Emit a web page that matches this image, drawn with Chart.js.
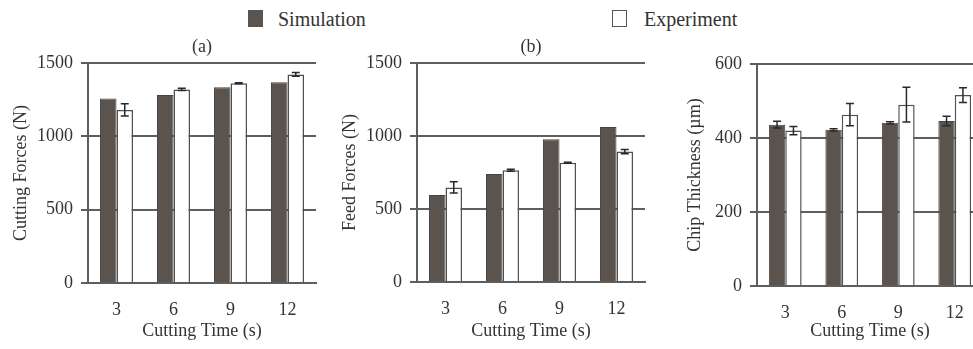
<!DOCTYPE html>
<html>
<head>
<meta charset="utf-8">
<script src="https://cdn.jsdelivr.net/npm/chart.js@4.4.1/dist/chart.umd.min.js"></script>
<style>
  html, body { margin: 0; padding: 0; background: #fff; width: 973px; height: 349px; overflow: hidden; }
  .panel { position: absolute; top: 0; }
  .lg-box { position: absolute; width: 15px; height: 17px; border: 1.5px solid #555; box-sizing: border-box; }
  .lg-text { position: absolute; font-family: 'Liberation Serif', 'Times New Roman', serif; font-size: 20px; color: #333; line-height: 20px; }
</style>
</head>
<body>
<div class="lg-box" style="left:248px; top:10px; background:#5b534d;"></div>
<div class="lg-text" style="left:278px; top:9px;">Simulation</div>
<div class="lg-box" style="left:612px; top:10px; background:#fff;"></div>
<div class="lg-text" style="left:644px; top:9px;">Experiment</div>

<div class="panel" style="left:0px;"><canvas id="ca" width="330" height="349"></canvas></div>
<div class="panel" style="left:330px;"><canvas id="cb" width="330" height="349"></canvas></div>
<div class="panel" style="left:660px;"><canvas id="cc" width="340" height="349"></canvas></div>

<script>
// ---- data ----
const categories = ['3', '6', '9', '12'];

const cuttingSim = [1258, 1282, 1334, 1368];
const cuttingSimErr = [0, 0, 0, 0];
const cuttingExp = [1180, 1320, 1362, 1422];
const cuttingExpErr = [42, 7, 4, 13];

const feedSim = [596, 740, 978, 1062];
const feedSimErr = [0, 0, 0, 0];
const feedExp = [648, 765, 817, 893];
const feedExpErr = [38, 7, 3, 14];

const chipSim = [436, 422, 441, 446];
const chipSimErr = [9, 3, 3, 13];
const chipExp = [420, 463, 490, 516];
const chipExpErr = [11, 30, 47, 20];

const seriesNames = ['Simulation', 'Experiment'];
const xTitle = 'Cutting Time (s)';

// ---- styling ----
const FONT = "'Liberation Serif', 'Times New Roman', serif";
const TEXT = '#333';
const GRID = '#5e5e5e';
const DARK = '#5b534d';

Chart.defaults.font.family = FONT;
Chart.defaults.font.size = 18;
Chart.defaults.color = TEXT;

const errorBars = {
  id: 'errorBars',
  afterDatasetsDraw(chart) {
    const ctx = chart.ctx;
    const ys = chart.scales.y;
    chart.data.datasets.forEach((ds, i) => {
      if (!ds.errors) return;
      const meta = chart.getDatasetMeta(i);
      meta.data.forEach((bar, j) => {
        const e = ds.errors[j];
        if (!e) return;
        const v = ds.data[j];
        const x = bar.x;
        const yt = ys.getPixelForValue(v + e);
        const yb = ys.getPixelForValue(v - e);
        ctx.save();
        ctx.strokeStyle = '#2a2a2a';
        ctx.lineWidth = 1.5;
        ctx.beginPath();
        ctx.moveTo(x, yt); ctx.lineTo(x, yb);
        ctx.moveTo(x - 4, yt); ctx.lineTo(x + 4, yt);
        ctx.moveTo(x - 4, yb); ctx.lineTo(x + 4, yb);
        ctx.stroke();
        ctx.restore();
      });
    });
  }
};

function makeChart(id, cfg) {
  const datasets = [
    { label: seriesNames[0], data: cfg.sim, errors: cfg.simErr, backgroundColor: DARK, borderColor: '#4a4440', borderWidth: 1 },
    { label: seriesNames[1], data: cfg.exp, errors: cfg.expErr, backgroundColor: '#ffffff', borderColor: '#505050', borderWidth: 1.5 }
  ];
  const f18 = { family: FONT, size: 18, weight: 'normal' };
  return new Chart(document.getElementById(id), {
    type: 'bar',
    data: { labels: categories, datasets },
    plugins: [errorBars],
    options: {
      responsive: false,
      animation: false,
      categoryPercentage: 0.58,
      barPercentage: 1.0,
      layout: { padding: { left: 0, right: cfg.padRight, top: cfg.padTop, bottom: 0 } },
      plugins: {
        legend: { display: false },
        tooltip: { enabled: false },
        title: {
          display: !!cfg.title,
          text: cfg.title || '',
          fullSize: false,
          color: TEXT,
          font: f18,
          padding: { top: 36, bottom: 5.4 }
        }
      },
      scales: {
        x: {
          grid: { display: false },
          border: { display: true, color: GRID, width: 2 },
          ticks: { color: TEXT, font: f18, padding: 8 },
          title: { display: true, text: xTitle, color: TEXT, font: f18, padding: { top: 0, bottom: 7 } },
          afterFit: (s) => { s.height = cfg.xHeight; }
        },
        y: {
          min: 0, max: cfg.max,
          ticks: { stepSize: cfg.step, color: TEXT, font: f18, padding: 8, callback: (v) => String(v) },
          grid: { color: GRID, lineWidth: 2, tickLength: 7, drawTicks: true },
          border: { display: true, color: GRID, width: 2 },
          title: { display: true, text: cfg.yTitle, color: TEXT, font: f18, padding: { top: cfg.yTitlePad, bottom: 0 } },
          afterFit: (s) => { s.width = cfg.yWidth; }
        }
      }
    }
  });
}

makeChart('ca', { sim: cuttingSim, simErr: cuttingSimErr, exp: cuttingExp, expErr: cuttingExpErr,
  max: 1500, step: 500, yTitle: 'Cutting Forces (N)', title: '(a)', padRight: 14, padTop: 0,
  xHeight: 66, yWidth: 88, yTitlePad: 10 });
makeChart('cb', { sim: feedSim, simErr: feedSimErr, exp: feedExp, expErr: feedExpErr,
  max: 1500, step: 500, yTitle: 'Feed Forces (N)', title: '(b)', padRight: 15, padTop: 0,
  xHeight: 67, yWidth: 87, yTitlePad: 9 });
makeChart('cc', { sim: chipSim, simErr: chipSimErr, exp: chipExp, expErr: chipExpErr,
  max: 600, step: 200, yTitle: 'Chip Thickness (µm)', title: '', padRight: 17, padTop: 64,
  xHeight: 63, yWidth: 97, yTitlePad: 24 });
</script>
</body>
</html>
